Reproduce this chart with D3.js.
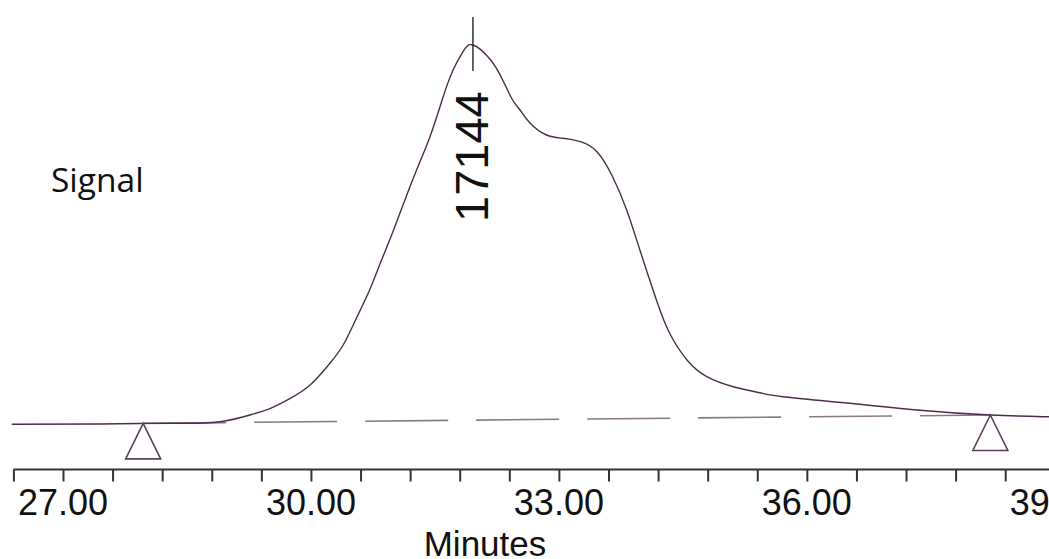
<!DOCTYPE html>
<html>
<head>
<meta charset="utf-8">
<script src="https://cdn.jsdelivr.net/npm/d3@7"></script>
<style>
  html, body { margin: 0; padding: 0; background: #fff; overflow: hidden; }
  svg { display: block; }
</style>
</head>
<body>
<svg id="chart" width="1049" height="559"></svg>
<script>
// Chromatogram trace: retention time (min) vs detector signal
const retentionTimes = [26.38, 27.45, 27.97, 28.42, 28.90, 29.26, 29.51, 29.75, 29.99, 30.23,
  30.39, 30.53, 30.71, 30.84, 31.00, 31.23, 31.44, 31.60, 31.72, 31.84, 31.96,
  32.17, 32.32, 32.44, 32.53, 32.65, 32.85, 33.05, 33.26, 33.46, 33.65,
  33.82, 33.98, 34.18, 34.34, 34.55, 34.79, 35.11, 35.43, 35.71, 36.52,
  37.33, 38.22, 38.86, 38.95];
const signal = [0.05, 0.13, 0.29, 0.32, 0.74, 2.50, 4.27, 6.90, 10.41, 16.13,
  20.95, 27.09, 35.44, 42.56, 51.25, 64.43, 75.84, 86.38, 93.41, 98.23, 100.0,
  96.18, 90.78, 85.51, 82.87, 79.45, 76.28, 75.41, 74.52, 71.88, 65.30,
  56.52, 45.98, 32.81, 24.03, 17.00, 12.60, 9.96, 8.38, 7.33, 5.59,
  3.82, 2.50, 2.06, 2.02];

// Integration start / end markers and the peak annotation
const markerTimes = [27.97, 38.22];
const markerSignal = [0.29, 2.50];
const peakTime = 31.96;
const peakLabel = "17144";

// Axis ticks
const minorTicks = [26.4, 27.0, 27.6, 28.2, 28.8, 29.4, 30.0, 30.6, 31.2, 31.8, 32.4, 33.0,
  33.6, 34.2, 34.8, 35.4, 36.0, 36.6, 37.2, 37.8, 38.4, 39.0];
const majorTicks = [27, 30, 33, 36, 39];
const tickLabels = ["27.00", "30.00", "33.00", "36.00", "39.00"];
const xTitle = "Minutes";
const yTitle = "Signal";

const svg = d3.select("#chart");
const x = d3.scaleLinear().domain([26.4, 39.0]).range([13.4, 1054.8]);
const y = d3.scaleLinear().domain([0, 100]).range([424.5, 45]);
const axisY = 469.5;

const traceColor = "#4d2c4e";

// Axis line with minor ticks
const axis = d3.axisBottom(x).tickValues(minorTicks).tickSize(12).tickFormat("");
const gAxis = svg.append("g").attr("transform", `translate(0,${axisY})`).call(axis);
gAxis.select(".domain").attr("stroke", "#333").attr("stroke-width", 2.2)
  .attr("d", `M${x(26.4)},0H1049`);
gAxis.selectAll(".tick line").attr("stroke", "#333").attr("stroke-width", 2);

// Major tick labels
svg.append("g").selectAll("text").data(majorTicks).join("text")
  .attr("x", d => x(d))
  .attr("y", 515)
  .attr("text-anchor", "middle")
  .attr("font-family", "'Liberation Sans', Arial, sans-serif")
  .attr("font-size", 36)
  .attr("fill", "#111")
  .text((d, i) => tickLabels[i]);

svg.append("text")
  .attr("x", 485).attr("y", 556)
  .attr("text-anchor", "middle")
  .attr("font-family", "'Liberation Sans', Arial, sans-serif")
  .attr("font-size", 35)
  .attr("fill", "#111")
  .text(xTitle);

svg.append("text")
  .attr("x", 51).attr("y", 192)
  .attr("font-family", "'Open Sans', sans-serif")
  .attr("font-size", 33.5)
  .attr("fill", "#111")
  .text(yTitle);

// Dashed baseline between the integration markers
svg.append("line")
  .attr("x1", x(markerTimes[0])).attr("y1", y(markerSignal[0]))
  .attr("x2", x(markerTimes[1])).attr("y2", y(markerSignal[1]))
  .attr("stroke", "#8a788a").attr("stroke-width", 1.6)
  .attr("stroke-dasharray", "83,28");

// Signal trace
const line = d3.line().x(d => x(d[0])).y(d => y(d[1])).curve(d3.curveNatural);
svg.append("path")
  .datum(retentionTimes.map((t, i) => [t, signal[i]]))
  .attr("d", line)
  .attr("fill", "none")
  .attr("stroke", traceColor)
  .attr("stroke-width", 1.4);

// Triangular baseline markers
svg.append("g").selectAll("path").data(markerTimes).join("path")
  .attr("d", (t, i) => {
    const px = x(t), py = y(markerSignal[i]);
    return `M${px},${py}L${px - 17.5},${py + 35.5}H${px + 17.5}Z`;
  })
  .attr("fill", "none")
  .attr("stroke", "#5e3d5f")
  .attr("stroke-width", 1.6);

// Peak apex tick and label
const peakY = y(d3.max(signal));
svg.append("line")
  .attr("x1", x(peakTime)).attr("x2", x(peakTime))
  .attr("y1", peakY - 28).attr("y2", peakY + 26)
  .attr("stroke", "#222").attr("stroke-width", 1.4);

svg.append("text")
  .attr("transform", `translate(${x(peakTime) + 15},222) rotate(-90)`)
  .attr("font-family", "'Liberation Sans', Arial, sans-serif")
  .attr("font-size", 47)
  .attr("fill", "#111")
  .text(peakLabel);
</script>
</body>
</html>
